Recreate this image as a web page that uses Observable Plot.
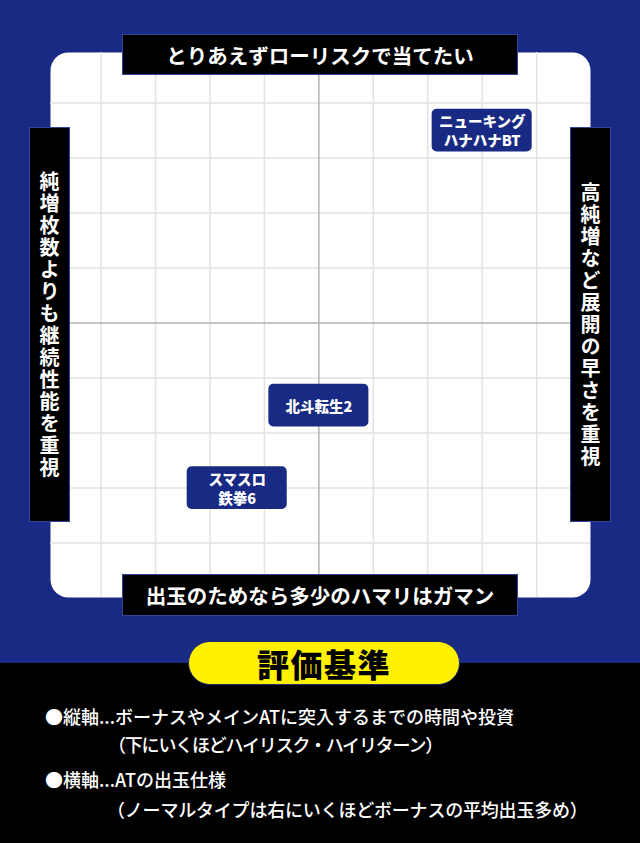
<!DOCTYPE html>
<html>
<head>
<meta charset="utf-8">
<script src="https://cdn.jsdelivr.net/npm/d3@7"></script>
<script src="https://cdn.jsdelivr.net/npm/@observablehq/plot@0.6"></script>
<style>
  html, body { margin: 0; padding: 0; background: #000; }
  #wrap { position: relative; width: 640px; height: 843px; background: #000; overflow: hidden;
          font-family: "Noto Sans CJK JP", "Noto Sans", sans-serif; }
  #chart { position: absolute; left: 0; top: 0; }
  #chart svg { display: block; }
  .lab { position: absolute; box-sizing: border-box; background: #000; border: 1px solid #34449c;
         color: #fff; font-weight: 700; display: flex; align-items: center; justify-content: center; }
  .lab.h { font-size: 20.5px; }
  .lab.v { font-size: 20px; writing-mode: vertical-rl; text-orientation: upright; letter-spacing: 2px; }
  #pill { position: absolute; left: 188px; top: 641px; width: 272px; height: 44px; box-sizing: border-box;
          border-radius: 22px; background: #fff100; border: 1px solid #1f2a70; display: flex;
          align-items: center; justify-content: center; font-size: 32px; font-weight: 900; color: #000;
          letter-spacing: 1.5px; }
  .note { position: absolute; color: #fff; font-size: 18px; line-height: 18px; white-space: nowrap; font-weight: 500; }
</style>
</head>
<body>
<div id="wrap">
  <div id="chart"></div>
  <div class="lab h" id="labTop" style="left:122px;top:34px;width:396px;height:41px;"></div>
  <div class="lab h" id="labBottom" style="left:122px;top:574px;width:396px;height:42px;"></div>
  <div class="lab v" id="labLeft" style="left:29px;top:127px;width:41px;height:395px;"></div>
  <div class="lab v" id="labRight" style="left:570px;top:127px;width:41px;height:395px;"></div>
  <div id="pill"></div>
  <div class="note" id="n1" style="left:45px;top:707px;"></div>
  <div class="note" id="n2" style="left:108px;top:735px;letter-spacing:-1.2px;"></div>
  <div class="note" id="n3" style="left:45px;top:770px;"></div>
  <div class="note" id="n4" style="left:107px;top:800px;letter-spacing:-0.2px;"></div>
</div>
<script>
// ---- data ----
const names = ["ニューキング\nハナハナBT", "北斗転生2", "スマスロ\n鉄拳6"];
const xValues = [3, 0, -1.5];
const yValues = [3.5, -1.5, -3];
const gridTicks = [-4, -3, -2, -1, 1, 2, 3, 4];

const labelTop = "とりあえずローリスクで当てたい";
const labelBottom = "出玉のためなら多少のハマリはガマン";
const labelLeft = "純増枚数よりも継続性能を重視";
const labelRight = "高純増など展開の早さを重視";
const legendTitle = "評価基準";
const notes = [
  "●縦軸...ボーナスやメインATに突入するまでの時間や投資",
  "（下にいくほどハイリスク・ハイリターン）",
  "●横軸...ATの出玉仕様",
  "（ノーマルタイプは右にいくほどボーナスの平均出玉多め）"
];

// ---- styling ----
const BLUE = "#192a84";
const BOX_HALF_W = 0.919;   // half box width in x units (~50px)
const BOX_HALF_H = 0.388;   // half box height in y units (~21px)

const points = names.map((n, i) => ({name: n, x: xValues[i], y: yValues[i]}));

const chart = Plot.plot({
  width: 640,
  height: 663,
  marginTop: 52,
  marginBottom: 66,
  marginLeft: 50,
  marginRight: 50,
  x: {domain: [-4.93, 4.99], axis: null},
  y: {domain: [-4.99, 4.92], axis: null},
  style: {background: BLUE, fontFamily: "'Noto Sans CJK JP', sans-serif"},
  marks: [
    Plot.frame({fill: "#fff", stroke: null, rx: 18}),
    Plot.ruleX(gridTicks, {stroke: "#e2e2e2", strokeWidth: 1.5}),
    Plot.ruleY(gridTicks, {stroke: "#e2e2e2", strokeWidth: 1.5}),
    Plot.ruleX([0], {stroke: "#b3b3b3", strokeWidth: 1.5}),
    Plot.ruleY([0], {stroke: "#b3b3b3", strokeWidth: 1.5}),
    Plot.rect(points, {
      x1: d => d.x - BOX_HALF_W, x2: d => d.x + BOX_HALF_W,
      y1: d => d.y - BOX_HALF_H, y2: d => d.y + BOX_HALF_H,
      fill: BLUE, rx: 5
    }),
    Plot.text(points, {
      x: "x", y: "y", text: "name", fill: "#fff", fontSize: 14.5, fontWeight: 900, lineHeight: 1.3
    })
  ]
});
document.getElementById("chart").appendChild(chart);

document.getElementById("labTop").textContent = labelTop;
document.getElementById("labBottom").textContent = labelBottom;
document.getElementById("labLeft").textContent = labelLeft;
document.getElementById("labRight").textContent = labelRight;
document.getElementById("pill").textContent = legendTitle;
notes.forEach((t, i) => document.getElementById("n" + (i + 1)).textContent = t);
</script>
</body>
</html>
